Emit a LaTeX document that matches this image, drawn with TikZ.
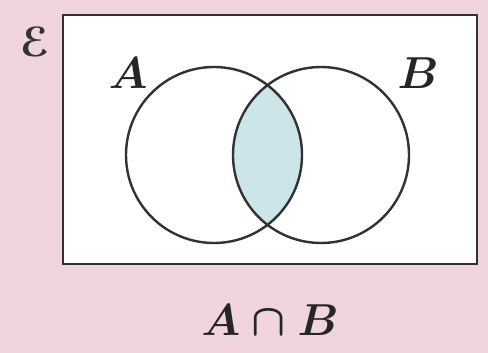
\documentclass[tikz,border=0pt]{standalone}
\usepackage{fontspec}
\newfontfamily\symfont{DejaVu Sans}
\definecolor{bgpink}{RGB}{240,213,225}
\definecolor{lensblue}{RGB}{204,229,233}
\definecolor{linegray}{RGB}{50,50,52}
\newcommand{\bigmath}[1]{\scalebox{1.8}{\Huge\boldmath$#1$}}
\begin{document}
\begin{tikzpicture}[x=1pt,y=-1pt,
  setline/.style={draw=linegray,line width=2.4pt},
  lbl/.style={inner sep=0pt,text=black!85}]
\fill[bgpink] (0,0) rectangle (488,353);
\useasboundingbox (0,0) rectangle (488,353);
\node[setline,fill=white,minimum width=414pt,minimum height=249pt,inner sep=0pt,anchor=north west] (U) at (62,14) {};
\coordinate (ca) at (214,155);
\coordinate (cb) at (321,155);
\begin{scope}
  \clip (ca) circle[radius=88];
  \fill[lensblue] (cb) circle[radius=88];
\end{scope}
\draw[setline] (ca) circle[radius=88];
\draw[setline] (cb) circle[radius=88];
\node[circle,minimum size=176pt,inner sep=0pt] (A) at (ca) {};
\node[circle,minimum size=176pt,inner sep=0pt] (B) at (cb) {};
\node[lbl] (la) at (128,73) {\bigmath{A}};
\node[lbl] (lb) at (418,73) {\bigmath{B}};
\node[inner sep=0pt,text=linegray] (le) at (35,42) {\fontsize{40}{44}\selectfont\symfont\bfseries ℰ};
\node[lbl] (cap) at (270,320) {\bigmath{A\cap B}};
\end{tikzpicture}
\end{document}
